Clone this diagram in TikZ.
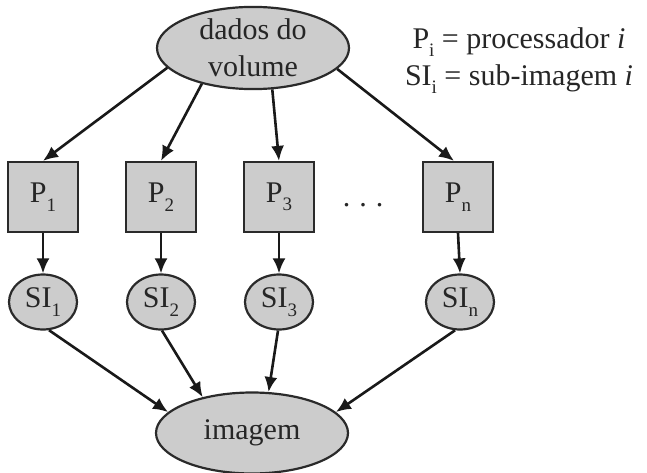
\documentclass[tikz,border=0pt]{standalone}
\usepackage{fontspec}
\setmainfont{Liberation Serif}
\usetikzlibrary{shapes.geometric,arrows.meta}
\newcommand{\sbs}[1]{\raisebox{-0.28em}{\fontsize{19}{19}\selectfont #1}}
\definecolor{fillg}{HTML}{CCCCCC}
\definecolor{edgeg}{HTML}{2A2A2A}
\tikzset{
  txt/.style={font=\fontsize{30}{37}\selectfont, text=black!85},
  bigell/.style={txt, ellipse, draw=edgeg, fill=fillg, line width=2.2pt, inner sep=0pt, minimum width=192, minimum height=81},
  smallell/.style={txt, ellipse, draw=edgeg, fill=fillg, line width=2.2pt, inner sep=0pt, minimum width=68, minimum height=55},
  procbox/.style={txt, rectangle, draw=edgeg, fill=fillg, line width=2.2pt, inner sep=0pt, minimum width=70, minimum height=70},
  arr/.style={line width=2.6pt, draw=black!90, -{Latex[length=15pt,width=13pt]}}
}
\begin{document}
\begin{tikzpicture}[x=1pt,y=-1pt]
\useasboundingbox (0,0) rectangle (647,473);
\node[bigell, align=center] (top) at (253,48) {dados do\\volume};
\node[txt, align=center, anchor=north, inner sep=0pt] (legend) at (519,27) {P\sbs{i} = processador \textit{i}\\SI\sbs{i} = sub-imagem \textit{i}};
\node[procbox] (p1) at (43,197) {P\sbs{1}};
\node[procbox] (p2) at (161,197) {P\sbs{2}};
\node[procbox] (p3) at (279,197) {P\sbs{3}};
\node[procbox] (pn) at (458,197) {P\sbs{n}};
\node[txt, anchor=base, inner sep=0pt] (dots) at (363,206) {.\hspace{9pt}.\hspace{9pt}.};
\node[smallell] (s1) at (43,302) {SI\sbs{1}};
\node[smallell] (s2) at (161,302) {SI\sbs{2}};
\node[smallell] (s3) at (279,302) {SI\sbs{3}};
\node[smallell] (sn) at (460,302) {SI\sbs{n}};
\node[bigell] (img) at (252,433) {imagem};
\draw[arr] (top.193) -- (p1.north);
\draw[arr] (top.215) -- (p2.north);
\draw[arr] (top.295) -- (p3.north);
\draw[arr] (top.346) -- ([xshift=-4pt]pn.north);
\draw[arr] (p1) -- (s1);
\draw[arr] (p2) -- (s2);
\draw[arr] (p3) -- (s3);
\draw[arr] (pn.south) -- (sn.north);
\draw[arr] (s1.-78) -- (img.166);
\draw[arr] (s2.-88) -- (img.144);
\draw[arr] (s3.-92) -- (img.68);
\draw[arr] (sn.-100) -- (img.14);
\end{tikzpicture}
\end{document}
